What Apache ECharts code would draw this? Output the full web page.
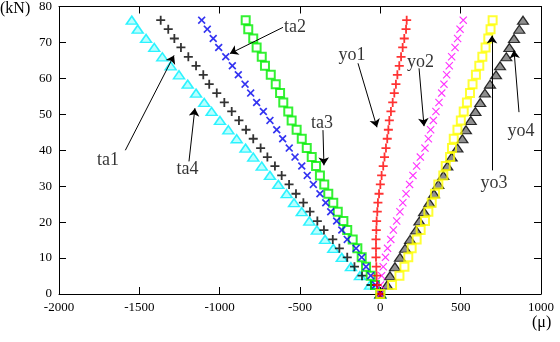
<!DOCTYPE html>
<html><head><meta charset="utf-8">
<script src="https://cdn.jsdelivr.net/npm/echarts@6/dist/echarts.min.js"></script>
<style>html,body{margin:0;padding:0;background:#fff}#c{width:560px;height:342px}</style>
</head><body><div id="c"></div>
<script>
// Load steps (kN), shared by all gauges
const loads = [0, 2.5, 5.1, 7.6, 10.2, 12.7, 15.2, 17.8, 20.3, 22.9, 25.4, 27.9, 30.5, 33.0, 35.6, 38.1, 40.6, 43.2, 45.7, 48.3, 50.8, 53.3, 55.9, 58.4, 61.0, 63.5, 66.0, 68.6, 71.1, 73.7, 76.2];
// Strain readings (micro) at each load step
const ta1 = [0, -64, -127, -183, -240, -293, -344, -395, -442, -489, -537, -583, -635, -687, -738, -791, -839, -894, -946, -998, -1050, -1096, -1147, -1199, -1253, -1305, -1357, -1407, -1458, -1510, -1547];
const ta2 = [0, -30, -60, -89, -116, -151, -206, -240, -272, -309, -340, -376, -417, -455, -489, -531, -567, -608, -645, -687, -728, -770, -807, -842, -884, -921, -962, -1006, -1040, -1077, -1112];
const ta3 = [0, -33, -60, -89, -116, -143, -172, -206, -230, -265, -293, -324, -349, -376, -400, -427, -458, -489, -521, -552, -573, -604, -624, -651, -682, -718, -738, -770, -791, -822, -838];
const ta4 = [0, -58, -114, -161, -206, -255, -296, -351, -392, -438, -479, -525, -568, -614, -656, -703, -745, -791, -836, -880, -925, -971, -1018, -1065, -1102, -1147, -1195, -1241, -1282, -1320, -1367];
const yo1 = [0, -21, -23, -25, -27, -27, -27, -25, -23, -19, -15, -8, 0, 8, 18, 26, 35, 43, 50, 56, 66, 77, 87, 97, 106, 118, 129, 139, 149, 160, 164];
const yo2 = [0, 1, 8, 18, 32, 45, 65, 81, 102, 122, 140, 160, 182, 203, 226, 249, 278, 299, 313, 330, 346, 365, 382, 396, 413, 429, 444, 465, 481, 496, 516];
const yo3 = [0, 73, 119, 150, 174, 195, 226, 251, 278, 299, 320, 340, 361, 392, 407, 434, 446, 457, 480, 501, 519, 539, 558, 574, 595, 616, 635, 655, 672, 686, 699];
const yo4 = [0, 42, 60, 91, 122, 154, 185, 222, 243, 272, 305, 334, 361, 392, 417, 444, 480, 511, 533, 563, 592, 622, 651, 683, 720, 745, 784, 803, 832, 865, 888];

// Annotation labels and arrows (data coordinates)
const labelNames = ['ta1', 'ta4', 'ta2', 'ta3', 'yo1', 'yo2', 'yo3', 'yo4'];
const labelX = [-1695, -1200, -531, -363, -176, 250, 707, 875];
const labelY = [37.2, 34.7, 74.2, 47.6, 66.4, 64.6, 30.8, 45.3];
const arrowFromX = [-1587, -1191, -606, -357, -139, 241, 695, 863];
const arrowFromY = [40.0, 36.9, 74.2, 45.6, 64.2, 62.8, 34.4, 50.6];
const arrowToX = [-1284, -1154, -936, -351, -21, 272, 695, 832];
const arrowToY = [66.4, 51.7, 66.9, 35.8, 46.4, 46.7, 71.9, 67.8];

const PLUS = 'path://M4,0H6V4H10V6H6V10H4V6H0V4H4Z';
const CROSS_B = 'path://M0,1.5L1.5,0L5,3.5L8.5,0L10,1.5L6.5,5L10,8.5L8.5,10L5,6.5L1.5,10L0,8.5L3.5,5Z';
const CROSS_T = 'path://M0,1L1,0L5,4L9,0L10,1L6,5L10,9L9,10L5,6L1,10L0,9L4,5Z';

function pts(xs) { return xs.map((x, i) => [x, loads[i]]); }
function sc(name, xs, symbol, size, itemStyle, z) {
  return { name, type: 'scatter', data: pts(xs), symbol, symbolSize: size, itemStyle, silent: true, z: z || 3 };
}

const chart = echarts.init(document.getElementById('c'), null, { renderer: 'canvas' });
const axisFont = { fontFamily: 'Liberation Serif', fontSize: 13, color: '#000', formatter: v => String(v) };
const baseX = { type: 'value', min: -2000, max: 1000, interval: 500,
  axisLine: { show: true, onZero: false, lineStyle: { color: '#000', width: 1 } },
  axisTick: { show: true, inside: true, length: 7, lineStyle: { color: '#000' } },
  splitLine: { show: false } };
const baseY = { type: 'value', min: 0, max: 80, interval: 10,
  axisLine: { show: true, onZero: false, lineStyle: { color: '#000', width: 1 } },
  axisTick: { show: true, inside: true, length: 7, lineStyle: { color: '#000' } },
  splitLine: { show: false } };

chart.setOption({
  animation: false,
  backgroundColor: '#fff',
  grid: { left: 59, right: 19, top: 6, bottom: 48, containLabel: false },
  xAxis: [
    Object.assign({}, baseX, { position: 'bottom', axisLabel: Object.assign({ margin: 7 }, axisFont) }),
    Object.assign({}, baseX, { position: 'top', axisLabel: { show: false } })
  ],
  yAxis: [
    Object.assign({}, baseY, { position: 'left', axisLabel: Object.assign({ margin: 7 }, axisFont) }),
    Object.assign({}, baseY, { position: 'right', axisLabel: { show: false } })
  ],
  graphic: [
    { type: 'text', left: 0, top: 1, style: { text: '(kN)', font: '16px "Liberation Serif"', fill: '#000' } },
    { type: 'text', left: 532, top: 315, style: { text: '(μ)', font: '16px "Liberation Serif"', fill: '#000' } }
  ],
  series: [
    sc('ta1', ta1, 'triangle', [11, 8], { color: 'rgba(0,255,255,0.35)', borderColor: '#00f0ff', borderWidth: 1.5 }),
    sc('ta4', ta4, PLUS, 9, { color: '#000' }),
    sc('ta3', ta3, 'rect', 8, { color: 'rgba(255,255,255,0)', borderColor: '#00ee00', borderWidth: 2 }),
    sc('ta2', ta2, CROSS_B, 8, { color: '#0000ee' }),
    sc('yo4', yo4, 'triangle', [11, 8], { color: 'rgba(0,0,0,0.55)', borderColor: '#000', borderWidth: 1.2 }),
    sc('yo2', yo2, CROSS_T, 8, { color: '#ff00ff' }),
    sc('yo1', yo1, PLUS, 9, { color: '#ff0000' }),
    sc('yo3', yo3, 'rect', 8, { color: 'rgba(255,255,255,0)', borderColor: '#ffff00', borderWidth: 2 }, 4),
    {
      type: 'lines', coordinateSystem: 'cartesian2d', silent: true, z: 5,
      symbol: ['none', 'arrow'], symbolSize: 8,
      lineStyle: { color: '#000', width: 1, opacity: 1 },
      data: arrowFromX.map((x, i) => ({ coords: [[x, arrowFromY[i]], [arrowToX[i], arrowToY[i]]] }))
    },
    {
      type: 'scatter', silent: true, z: 6, symbolSize: 1,
      itemStyle: { color: 'rgba(0,0,0,0)' },
      label: { show: true, position: 'inside', formatter: p => labelNames[p.dataIndex],
        fontFamily: 'Liberation Serif', fontSize: 18, color: '#000' },
      data: labelX.map((x, i) => [x, labelY[i]])
    }
  ]
});
</script></body></html>
